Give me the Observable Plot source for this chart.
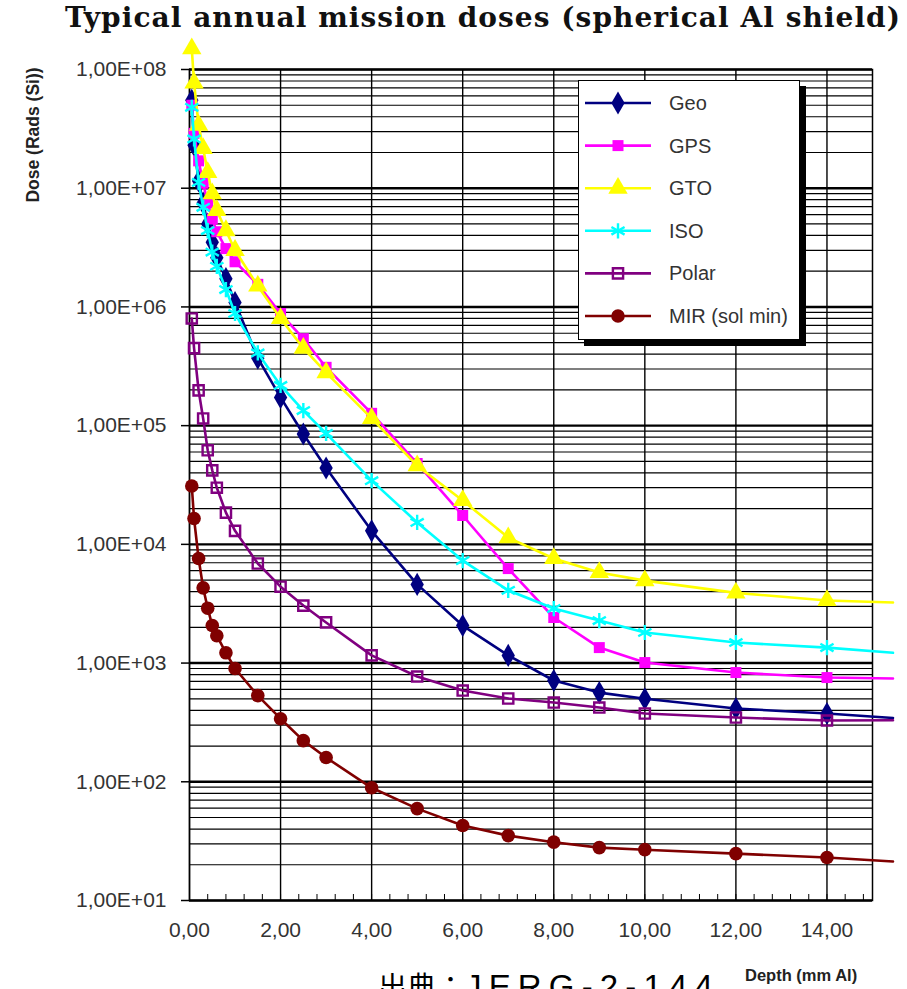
<!DOCTYPE html>
<html><head><meta charset="utf-8">
<script src="https://cdn.jsdelivr.net/npm/d3@7"></script>
<script src="https://cdn.jsdelivr.net/npm/@observablehq/plot@0.6"></script>
<style>
html,body{margin:0;padding:0;background:#fff;}
#root{position:relative;width:907px;height:989px;overflow:hidden;font-family:"Liberation Sans",Arial,sans-serif;}
#title{position:absolute;left:65px;top:1px;font-family:"DejaVu Serif",serif;font-weight:bold;font-size:28px;white-space:nowrap;color:#111;}
#chart{position:absolute;left:0;top:40px;}
#ylabel{position:absolute;left:33px;top:135px;transform:translate(-50%,-50%) rotate(-90deg);font-size:17.5px;font-weight:bold;color:#222;white-space:nowrap;}
#xlabel{position:absolute;left:745px;top:966px;font-size:16.5px;font-weight:bold;color:#222;white-space:nowrap;}
#source{position:absolute;left:378px;top:970px;font-family:"Noto Sans CJK JP",sans-serif;font-size:29px;line-height:30px;white-space:nowrap;color:#000;}
#srcref{font-family:"Liberation Sans",sans-serif;font-size:33px;}
#legend{position:absolute;left:578px;top:80px;width:220px;height:258px;background:#fff;border:1.5px solid #000;box-shadow:6px 6px 0 #000;}
</style>
</head><body>
<div id="root">
  <div id="title">Typical annual mission doses (spherical Al shield)</div>
  <div id="chart"></div>
  <div id="ylabel">Dose (Rads (Si))</div>
  <div id="xlabel">Depth (mm Al)</div>
  <div id="source">出典：<span id="srcref">JERG-2-144</span></div>
</div>
<script>
// ---- data ----
const depths = [0.05, 0.1, 0.2, 0.3, 0.4, 0.5, 0.6, 0.8, 1.0, 1.5, 2.0, 2.5, 3.0, 4.0, 5.0, 6.0, 7.0, 8.0, 9.0, 10, 12, 14];
const lineEndDepth = 15.45;
const seriesNames = ["Geo", "GPS", "GTO", "ISO", "Polar", "MIR (sol min)"];
const geo   = [5.5e7, 2.3e7, 1.15e7, 7.5e6, 5.0e6, 3.5e6, 2.6e6, 1.73e6, 1.09e6, 3.7e5, 1.73e5, 8.5e4, 4.4e4, 1.3e4, 4.6e3, 2.07e3, 1.16e3, 713, 564, 501, 414, 376];
const gps   = [5.0e7, 2.9e7, 1.7e7, 1.1e7, 7.5e6, 5.5e6, 4.3e6, 3.1e6, 2.4e6, 1.55e6, 8.8e5, 5.4e5, 3.1e5, 1.27e5, 4.8e4, 1.75e4, 6.25e3, 2.42e3, 1.35e3, 1.01e3, 832, 755];
const gto   = [1.5e8, 7.7e7, 3.4e7, 2.16e7, 1.36e7, 9.0e6, 6.5e6, 4.4e6, 3.0e6, 1.5e6, 8.0e5, 4.5e5, 2.8e5, 1.15e5, 4.6e4, 2.34e4, 1.14e4, 7.6e3, 5.8e3, 4.95e3, 3.9e3, 3.37e3];
const iso   = [4.8e7, 2.6e7, 1.12e7, 6.9e6, 4.4e6, 2.9e6, 2.2e6, 1.4e6, 8.8e5, 4.1e5, 2.18e5, 1.34e5, 8.6e4, 3.44e4, 1.53e4, 7.3e3, 4.1e3, 2.88e3, 2.28e3, 1.81e3, 1.49e3, 1.35e3];
const polar = [8.0e5, 4.5e5, 1.98e5, 1.15e5, 6.2e4, 4.2e4, 3.0e4, 1.85e4, 1.3e4, 6.9e3, 4.4e3, 3.05e3, 2.2e3, 1.16e3, 770, 587, 503, 465, 422, 376, 348, 328];
const mir   = [3.1e4, 1.65e4, 7.6e3, 4.3e3, 2.9e3, 2.07e3, 1.7e3, 1.22e3, 900, 532, 340, 222, 160, 89, 59.4, 42.8, 35.2, 31, 27.9, 26.8, 24.8, 23];
const endValues = [345, 741, 3240, 1220, 330, 21.3];
const yTickValues = [1e1, 1e2, 1e3, 1e4, 1e5, 1e6, 1e7, 1e8];
const xTickValues = [0, 2, 4, 6, 8, 10, 12, 14];

// ---- styles ----
const colors = ["#000080", "#ff00ff", "#ffff00", "#00ffff", "#800080", "#800000"];
const symbols = ["diamond", "square", "triangle", "asterisk", "square2", "circle"];
const hollow = [false, false, false, true, true, false];
const radii = [7, 6.2, 7.2, 7.2, 6.5, 6.8];

const seriesValues = [geo, gps, gto, iso, polar, mir];
const pointData = [], lineData = [];
seriesNames.forEach((name, i) => {
  depths.forEach((d, j) => {
    pointData.push({series: name, depth: d, dose: seriesValues[i][j]});
    lineData.push({series: name, depth: d, dose: seriesValues[i][j]});
  });
  lineData.push({series: name, depth: lineEndDepth, dose: endValues[i]});
});

const yMinor = [];
for (let e = 1; e < 8; e++) for (let k = 2; k <= 9; k++) yMinor.push(k * Math.pow(10, e));
const xMinor = d3.range(0.4, 15, 0.4);

const fmtY = v => "1,00E+" + String(Math.round(Math.log10(v))).padStart(2, "0");
const fmtX = v => v.toFixed(2).replace(".", ",");

const marks = [
  Plot.ruleY(yMinor, {stroke: "#000", strokeWidth: 1.2}),
  Plot.ruleY(yTickValues, {stroke: "#000", strokeWidth: 2.4}),
  Plot.ruleX(xTickValues, {stroke: "#000", strokeWidth: 1.4}),
  Plot.frame({stroke: "#000", strokeWidth: 1.5}),
  Plot.axisY(yTickValues, {tickFormat: fmtY, tickSize: 8, tickPadding: 15, fontSize: 21, fill: "#333", stroke: "#000", strokeWidth: 1.5, label: null}),
  Plot.axisX(xTickValues, {tickFormat: fmtX, tickSize: 0, tickPadding: 22, fontSize: 21, fill: "#333", label: null}),
  Plot.axisX(xMinor, {tickFormat: () => "", tickSize: -6, stroke: "#000", label: null})
];
seriesNames.forEach((name, i) => {
  marks.push(Plot.line(lineData.filter(d => d.series === name), {x: "depth", y: "dose", stroke: colors[i], strokeWidth: 2.6, curve: "linear"}));
  const pts = pointData.filter(d => d.series === name);
  if (hollow[i]) {
    marks.push(Plot.dot(pts, {x: "depth", y: "dose", symbol: symbols[i], r: radii[i], stroke: colors[i], strokeWidth: 2.4, fill: "none"}));
  } else {
    marks.push(Plot.dot(pts, {x: "depth", y: "dose", symbol: symbols[i], r: radii[i], fill: colors[i], stroke: "none"}));
  }
});

const plot = Plot.plot({
  width: 907,
  height: 950,
  marginLeft: 189,
  marginRight: 35,
  marginTop: 29,
  marginBottom: 90,
  x: {domain: [0, 15], label: null},
  y: {type: "log", domain: [10, 1e8], label: null},
  style: {fontFamily: "'Liberation Sans', Arial, sans-serif", fontSize: "21px", color: "#333", background: "transparent", overflow: "visible"},
  marks
});
document.getElementById("chart").append(plot);

// ---- legend ----
const symMap = {diamond: d3.symbolDiamond, square: d3.symbolSquare, triangle: d3.symbolTriangle, asterisk: d3.symbolAsterisk, square2: d3.symbolSquare2, circle: d3.symbolCircle};
const legend = d3.select("#root").append("div").attr("id", "legend");
const lsvg = legend.append("svg").attr("width", 220).attr("height", 258).style("overflow", "visible");
seriesNames.forEach((name, i) => {
  const cy = 22 + i * 42.6;
  const g = lsvg.append("g").attr("transform", `translate(0,${cy})`);
  g.append("line").attr("x1", 6).attr("x2", 72).attr("y1", 0).attr("y2", 0).attr("stroke", colors[i]).attr("stroke-width", 2.6);
  const p = g.append("path").attr("transform", "translate(39,0)")
    .attr("d", d3.symbol(symMap[symbols[i]], radii[i] * radii[i] * Math.PI)());
  if (hollow[i]) p.attr("fill", "none").attr("stroke", colors[i]).attr("stroke-width", 2.4);
  else p.attr("fill", colors[i]);
  g.append("text").attr("x", 90).attr("y", 0).attr("dy", "0.35em").attr("font-size", 20).attr("fill", "#333").text(name);
});

// ---- fit title width ----
const t = document.getElementById("title");
const w = t.getBoundingClientRect().width;
t.style.letterSpacing = Math.max(0, (835 - w) / (t.textContent.length - 1)) + "px";

// ---- spread source reference to span as in the reference ----
const sr = document.getElementById("srcref");
const srw = sr.getBoundingClientRect();
const srTarget = 720 - srw.left;
sr.style.letterSpacing = Math.max(0, (srTarget - srw.width) / sr.textContent.length) + "px";
</script>
</body></html>
